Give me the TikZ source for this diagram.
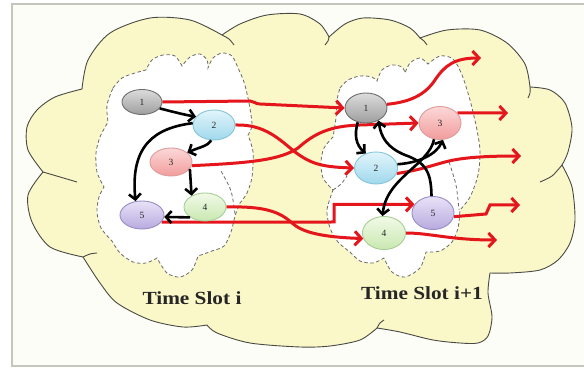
\documentclass[tikz,border=0pt]{standalone}
\usepackage{fontspec}
\usepackage{graphicx}
\setmainfont{Liberation Serif}
\usetikzlibrary{shapes.geometric,arrows.meta,backgrounds}
\definecolor{cloudfill}{HTML}{FAF7C8}
\definecolor{cloudline}{HTML}{4A4A44}
\definecolor{frameline}{HTML}{C6C5BC}
\definecolor{framefill}{HTML}{FDFDF7}
\definecolor{dashline}{HTML}{6A6A6A}
\definecolor{arrred}{HTML}{E4161C}
\definecolor{gtop}{HTML}{DCDCDC}\definecolor{gbot}{HTML}{9E9E9E}\definecolor{gln}{HTML}{6E6E6E}
\definecolor{btop}{HTML}{E2F5FB}\definecolor{bbot}{HTML}{9FD8EC}\definecolor{bln}{HTML}{86C4DA}
\definecolor{ptop}{HTML}{FCD8D8}\definecolor{pbot}{HTML}{F29C9C}\definecolor{pln}{HTML}{DC9C9C}
\definecolor{ktop}{HTML}{F1FAE8}\definecolor{kbot}{HTML}{C9E8B0}\definecolor{kln}{HTML}{A8CD96}
\definecolor{vtop}{HTML}{E8E2F7}\definecolor{vbot}{HTML}{B8AADF}\definecolor{vln}{HTML}{988DC4}
\begin{document}
\begin{tikzpicture}[x=1pt,y=-1pt,
  nd/.style={ellipse, inner sep=0pt, minimum width=42pt, minimum height=29pt,
    line width=0.9pt, font=\fontsize{9.5}{10}\selectfont, text=black!85},
  ngray/.style={nd, draw=gln, top color=gtop, bottom color=gbot},
  nblue/.style={nd, draw=bln, top color=btop, bottom color=bbot},
  npink/.style={nd, draw=pln, top color=ptop, bottom color=pbot},
  ngreen/.style={nd, draw=kln, top color=ktop, bottom color=kbot},
  nviolet/.style={nd, draw=vln, top color=vtop, bottom color=vbot},
  bigcloud/.style={fill=cloudfill, draw=cloudline, line width=0.9pt},
  tailline/.style={draw=cloudline, line width=0.9pt},
  dcloud/.style={fill=white, draw=dashline, line width=0.8pt, dash pattern=on 3.5pt off 2.5pt},
  dtail/.style={draw=dashline, line width=0.8pt, dash pattern=on 3.5pt off 2.5pt},
  redarr/.style={draw=arrred, line width=3pt, -{Straight Barb[length=6.5pt,width=14pt]}},
  blkarr/.style={draw=black, line width=2.6pt, -{Straight Barb[length=5.5pt,width=12pt]}},
  lbl/.style={font=\fontsize{18.5}{20}\selectfont\bfseries, text=black!85, inner sep=0pt}
]
\useasboundingbox (0,0) rectangle (584,371);

% nodes, slot i
\node[ngray,  minimum width=40pt, minimum height=25pt] (L1) at (142,102) {1};
\node[nblue,  minimum height=30pt] (L2) at (214,125) {2};
\node[npink,  minimum height=28pt] (L3) at (171,162) {3};
\node[ngreen, minimum height=28pt] (L4) at (205,207) {4};
\node[nviolet,minimum width=44pt, minimum height=28pt] (L5) at (142,215) {5};
% nodes, slot i+1
\node[ngray,  minimum height=30pt] (R1) at (366,108) {1};
\node[nblue,  minimum width=43pt, minimum height=32pt] (R2) at (376,168) {2};
\node[npink,  minimum height=33pt] (R3) at (440,123) {3};
\node[ngreen, minimum width=43pt, minimum height=33pt] (R4) at (384,233) {4};
\node[nviolet,minimum height=33pt] (R5) at (433,213) {5};

\coordinate (o1) at (481,58);
\coordinate (o3) at (508,113);
\coordinate (o2) at (521,156);
\coordinate (o5) at (520,205);
\coordinate (o4) at (497,240);

\begin{pgfonlayer}{background}
% frame
\path[fill=framefill, draw=frameline, line width=1.6pt] (12,4) rectangle (600,366);
% big cloud
\path[bigcloud] plot[smooth] coordinates {(82,89) (88,60) (110,33) (150,18) (190,20) (222,35)}
 -- plot[smooth] coordinates {(222,35) (240,24) (267,15) (300,14) (320,24) (329,37)}
 -- plot[smooth] coordinates {(329,37) (345,24) (363,18) (390,20) (410,28) (420,38)}
 -- plot[smooth] coordinates {(420,38) (447,30) (480,30) (507,43) (525,64) (530,87)}
 -- plot[smooth] coordinates {(530,87) (550,90) (565,103) (572,128) (568,152) (562,165)}
 -- plot[smooth] coordinates {(562,165) (572,187) (575,220) (570,243) (558,260) (540,270) (510,273) (490,273)}
 -- plot[smooth] coordinates {(490,273) (488,293) (492,317) (488,336) (478,343) (460,343) (433,340) (400,332) (377,328)}
 -- plot[smooth] coordinates {(377,328) (360,340) (330,346) (300,347) (250,343) (217,333) (207,325)}
 -- plot[smooth] coordinates {(207,325) (183,327) (150,320) (117,303) (100,283) (83,257)}
 -- plot[smooth] coordinates {(83,257) (50,247) (32,222) (28,195) (43,172)}
 -- plot[smooth] coordinates {(43,172) (28,150) (27,127) (37,110) (55,97) (82,89)}
 -- cycle;
\path[tailline] plot[smooth] coordinates {(222,35) (229,39) (234,45)};
\path[tailline] plot[smooth] coordinates {(329,37) (328,41) (325,45)};
\path[tailline] plot[smooth] coordinates {(420,38) (424,41) (427,45)};
\path[tailline] plot[smooth] coordinates {(530,87) (530,93) (528,98)};
\path[tailline] plot[smooth] coordinates {(562,165) (552,176) (540,182)};
\path[tailline] plot[smooth] coordinates {(83,257) (90,254) (97,253)};
\path[tailline] plot[smooth] coordinates {(43,172) (60,177) (77,182)};
\path[tailline] plot[smooth] coordinates {(377,328) (380,323) (384,320)};
% left dashed cloud
\path[dcloud] plot[smooth] coordinates {(113,88) (122,78) (135,73) (146,70)}
 -- plot[smooth] coordinates {(146,70) (152,60) (163,55) (175,56) (182,66)}
 -- plot[smooth] coordinates {(182,66) (190,57) (200,54) (207,60) (208,68)}
 -- plot[smooth] coordinates {(208,68) (213,58) (222,53) (232,56) (238,68)}
 -- plot[smooth] coordinates {(238,68) (244,82) (249,103) (252,125) (248,135)}
 -- plot[smooth] coordinates {(248,135) (253,152) (252,177) (247,193) (240,203)}
 -- plot[smooth] coordinates {(240,203) (235,216) (231,232) (224,246) (212,251) (198,256)}
 -- plot[smooth] coordinates {(198,256) (192,270) (180,277) (167,273) (157,258)}
 -- plot[smooth] coordinates {(157,258) (146,263) (133,262) (120,253) (112,241)}
 -- plot[smooth] coordinates {(112,241) (101,228) (97,212) (99,197) (104,187)}
 -- plot[smooth] coordinates {(104,187) (97,172) (96,153) (100,137) (108,122)}
 -- plot[smooth] coordinates {(108,122) (107,105) (113,88)}
 -- cycle;
\path[dtail] plot[smooth] coordinates {(235,214) (231,191) (221,171)};
% right dashed cloud
\path[dcloud] plot[smooth] coordinates {(340,88) (348,80) (360,76) (372,77) (377,81)}
 -- plot[smooth] coordinates {(377,81) (382,70) (392,65) (402,67) (405,73)}
 -- plot[smooth] coordinates {(405,73) (410,63) (420,58) (428,64)}
 -- plot[smooth] coordinates {(428,64) (440,56) (453,59) (462,75) (470,100) (476,125)}
 -- plot[smooth] coordinates {(476,125) (480,150) (478,175) (470,197) (460,210)}
 -- plot[smooth] coordinates {(460,210) (458,228) (452,242) (440,251) (426,252)}
 -- plot[smooth] coordinates {(426,252) (420,268) (405,277) (392,272) (384,258)}
 -- plot[smooth] coordinates {(384,258) (373,263) (360,261) (350,252)}
 -- plot[smooth] coordinates {(350,252) (338,242) (330,228) (327,210) (333,190)}
 -- plot[smooth] coordinates {(333,190) (323,178) (321,162) (324,148) (333,137)}
 -- plot[smooth] coordinates {(333,137) (336,118) (337,100) (340,88)}
 -- cycle;
\path[dtail] plot[smooth] coordinates {(449,162) (456,185) (459,210)};
\path[dtail] plot[smooth] coordinates {(333,190) (341,184) (347,176)};
% labels
\node[lbl] (t1) at (192,298) {\scalebox{1.15}[1]{Time Slot i}};
\node[lbl] (t2) at (422,293) {\scalebox{1.15}[1]{Time Slot i+1}};
% red arrows
\path[redarr] (L1.east) -- (250,101) .. controls (254,101) and (255,104) .. (260,104) -- (R1.west);
\path[redarr] (L2.east) .. controls (265,124) and (280,140) .. (295,152) .. controls (310,163) and (320,167) .. (R2.west);
\path[redarr] (L3.-10) .. controls (250,163) and (280,160) .. (298,148) .. controls (315,133) and (330,126) .. (360,125) -- (R3.west);
\path[redarr] (L4.east) .. controls (265,206) and (280,212) .. (292,223) .. controls (302,232) and (320,237) .. (R4.195);
\path[redarr] (L5.-20) -- (334,222) |- (R5.155);
\path[redarr] (R1.10) .. controls (410,102) and (425,95) .. (435,80) .. controls (445,65) and (455,58) .. (o1);
\path[redarr] (R3.30) -- (o3);
\path[redarr] (R2.-15) .. controls (420,170) and (430,166) .. (445,162) .. controls (460,158) and (480,156) .. (o2);
\path[redarr] (R5.-10) -- (486,214) -- (490,205) -- (o5);
\path[redarr] (R4.east) .. controls (430,233) and (450,240) .. (o4);
\end{pgfonlayer}

% black arrows
\path[blkarr] (L1.-20) .. controls (170,111) and (185,115) .. (L2.155);
\path[blkarr] (L2.-100) .. controls (208,146) and (200,147) .. (L3.30);
\path[blkarr] (L2.175) .. controls (155,128) and (130,145) .. (L5.115);
\path[blkarr] (L3.-20) -- (L4.140);
\path[blkarr] (L4.215) -- (L5.-5);
\path[blkarr] (R1.-120) .. controls (354,135) and (356,145) .. (R2.125);
\path[blkarr] (R5.95) .. controls (431,175) and (428,163) .. (405,155) .. controls (388,148) and (381,138) .. (R1.-45);
\path[blkarr] (R2.10) .. controls (418,163) and (436,155) .. (R3.-80);
\path[blkarr] (R3.-110) .. controls (429,165) and (386,178) .. (R4.95);
\end{tikzpicture}
\end{document}
